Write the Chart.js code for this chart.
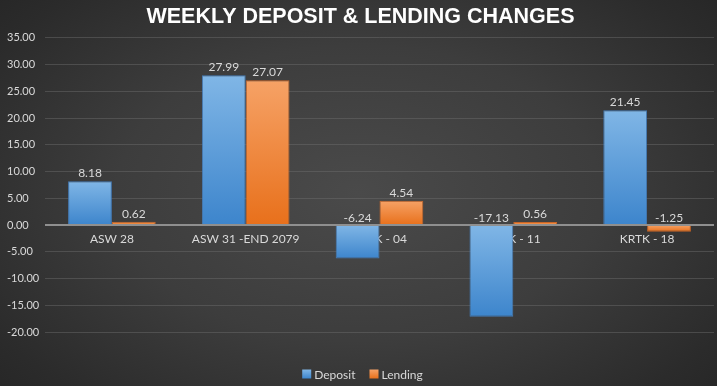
<!DOCTYPE html>
<html>
<head>
<meta charset="utf-8">
<script src="https://cdn.jsdelivr.net/npm/chart.js@4/dist/chart.umd.min.js"></script>
<style>
html,body{margin:0;padding:0;width:717px;height:386px;overflow:hidden;}
body{background:radial-gradient(ellipse 75% 85% at 50% 50%, #4a4a4a 0%, #3d3d3d 45%, #2b2b2b 80%, #232323 100%);}
#wrap{position:absolute;left:0;top:0;width:717px;height:386px;}
</style>
</head>
<body>
<div id="wrap"><canvas id="c" width="717" height="386"></canvas></div>
<script>
const categories = ["ASW 28", "ASW 31 -END 2079", "KRTK - 04", "KRTK - 11", "KRTK - 18"];
const depositValues = [8.18, 27.99, -6.24, -17.13, 21.45];
const lendingValues = [0.62, 27.07, 4.54, 0.56, -1.25];
const seriesNames = ["Deposit", "Lending"];
const yMin = -20, yMax = 35, yStep = 5;

const FONT = "Lato, 'Open Sans', sans-serif";
const TEXT = "#d9d9d9";
const palettes = [
  {top: "#80b6e6", bottom: "#3d85cc", solid: "#5b9bd5", border: "rgba(70,130,195,0.9)"},
  {top: "#f6a266", bottom: "#e8701b", solid: "#ed7d31", border: "rgba(215,105,35,0.9)"}
];

function barFill(p) {
  return function(ctx) {
    const chart = ctx.chart;
    if (!chart.chartArea || ctx.type !== 'data' || !chart.scales.y) return p.solid;
    const y = chart.scales.y;
    const v = ctx.raw;
    const t = y.getPixelForValue(Math.max(v, 0));
    const b = y.getPixelForValue(Math.min(v, 0));
    if (!isFinite(t) || !isFinite(b) || Math.abs(b - t) < 1) return p.solid;
    const g = chart.ctx.createLinearGradient(0, t, 0, b);
    g.addColorStop(0, p.top);
    g.addColorStop(1, p.bottom);
    return g;
  };
}

const valueLabels = {
  id: 'valueLabels',
  afterDatasetsDraw(chart) {
    const c = chart.ctx;
    c.save();
    c.font = "12px " + FONT;
    c.fillStyle = TEXT;
    c.textAlign = 'center';
    c.textBaseline = 'alphabetic';
    chart.data.datasets.forEach((ds, di) => {
      const meta = chart.getDatasetMeta(di);
      meta.data.forEach((bar, i) => {
        const v = ds.data[i];
        const top = Math.min(bar.y, bar.base);
        c.fillText(v.toFixed(2), bar.x, top - 4);
      });
    });
    c.restore();
  }
};

const customLegend = {
  id: 'customLegend',
  afterDraw(chart) {
    const c = chart.ctx;
    c.save();
    c.font = "12px " + FONT;
    c.textBaseline = 'middle';
    c.textAlign = 'left';
    const box = 9, gap = 3, itemGap = 14;
    const widths = seriesNames.map(n => box + gap + c.measureText(n).width);
    const total = widths.reduce((a, b) => a + b, 0) + itemGap * (seriesNames.length - 1);
    let x = chart.width / 2 - total / 2 + 4;
    const y = 374;
    seriesNames.forEach((n, i) => {
      const p = palettes[i];
      const g = c.createLinearGradient(0, y - box / 2, 0, y + box / 2);
      g.addColorStop(0, p.top);
      g.addColorStop(1, p.bottom);
      c.fillStyle = g;
      c.fillRect(x, y - box / 2, box, box);
      c.fillStyle = TEXT;
      c.fillText(n, x + box + gap, y + 1);
      x += widths[i] + itemGap;
    });
    c.restore();
  }
};

new Chart(document.getElementById('c'), {
  type: 'bar',
  data: {
    labels: categories,
    datasets: [
      {label: seriesNames[0], data: depositValues, backgroundColor: barFill(palettes[0]), borderColor: palettes[0].border, borderWidth: 1},
      {label: seriesNames[1], data: lendingValues, backgroundColor: barFill(palettes[1]), borderColor: palettes[1].border, borderWidth: 1}
    ]
  },
  options: {
    responsive: false,
    animation: false,
    devicePixelRatio: 1,
    layout: {padding: {left: 7, right: 3, top: 0, bottom: 54}},
    datasets: {bar: {categoryPercentage: 0.655, barPercentage: 1.0}},
    plugins: {
      legend: {display: false},
      tooltip: {enabled: false},
      title: {
        display: true,
        text: "WEEKLY DEPOSIT & LENDING CHANGES",
        color: "#ffffff",
        font: {family: "'Liberation Sans', Arial, sans-serif", size: 21.5, weight: 'bold', lineHeight: 1.2},
        padding: {top: 4, bottom: 8}
      }
    },
    scales: {
      x: {
        position: {y: 0},
        grid: {display: false, drawTicks: false},
        border: {display: false},
        ticks: {color: TEXT, font: {family: FONT, size: 12}, padding: 7, maxRotation: 0, autoSkip: false}
      },
      y: {
        min: yMin, max: yMax,
        afterFit(s) { s.width = 38; },
        grid: {
          drawTicks: false,
          color: (ctx) => ctx.tick && ctx.tick.value === 0 ? "#8f8f8f" : "rgba(110,110,110,0.45)",
          lineWidth: (ctx) => ctx.tick && ctx.tick.value === 0 ? 2 : 1
        },
        border: {display: false},
        ticks: {
          stepSize: yStep,
          crossAlign: 'far',
          color: TEXT,
          font: {family: FONT, size: 11},
          callback: (v) => Number(v).toFixed(2)
        }
      }
    }
  },
  plugins: [valueLabels, customLegend]
});
</script>
</body>
</html>
